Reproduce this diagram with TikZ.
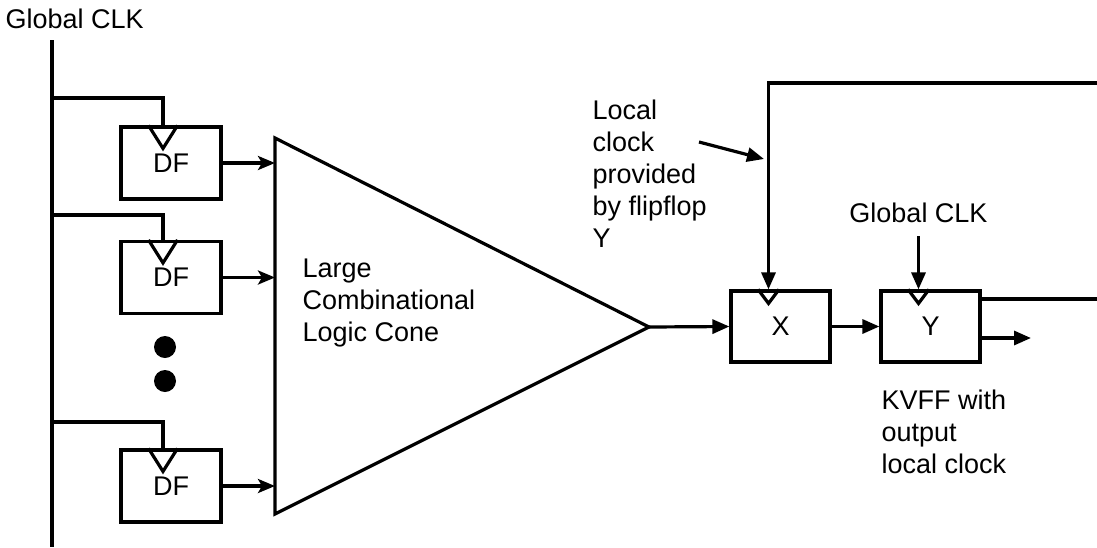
\documentclass[tikz,border=0pt]{standalone}
\usepackage{fontspec}
\setmainfont{Liberation Sans}
\usetikzlibrary{arrows.meta,calc}
\begin{document}
\begin{tikzpicture}[x=1pt,y=-1pt,
  line width=3.2pt,
  txt/.style={font=\fontsize{27}{32}\selectfont, inner sep=0pt},
  dfbox/.style={draw, minimum width=100pt, minimum height=72pt, inner sep=0pt, font=\fontsize{27}{32}\selectfont},
  ffbox/.style={draw, minimum width=99pt, minimum height=71pt, inner sep=0pt, font=\fontsize{27}{32}\selectfont},
  darr/.style={-{Stealth[length=17pt,width=14pt,inset=4pt]}},
  tarr/.style={-{Triangle[length=17pt,width=14pt]}},
  dotnode/.style={circle, fill, inner sep=0pt, minimum size=22pt}
]
\useasboundingbox (0,0) rectangle (1097,547);

% global clock bus
\node[txt, anchor=base west] (gclk) at (4,28) {Global CLK};
\coordinate (bustop) at (52,40);
\coordinate (busbot) at (52,547);
\draw (bustop) -- (busbot);

% DF flip-flops
\node[dfbox] (df1) at (171,163) {DF};
\node[dfbox] (df2) at (171,277.5) {DF};
\node[dfbox] (df3) at (171,486) {DF};

\foreach \i/\yy in {1/98, 2/215, 3/422}{
  \coordinate (br\i) at (52,\yy);
  \coordinate (ck\i) at ($(df\i.north)+(-8,0)$);
  \draw (br\i) -| (ck\i);
  \draw ($(df\i.north)+(-22.5,0)$) -- ++(14.5,23) -- ++(14.5,-23);
}

% dots
\node[dotnode] (dot1) at (165,347) {};
\node[dotnode] (dot2) at (165,381) {};

% cone
\coordinate (conetop) at (275,138);
\coordinate (conebot) at (275,514);
\coordinate (apex) at (649,327);
\draw (conetop) -- (apex) -- (conebot) -- cycle;
\node[txt, anchor=north west, align=left] (conelbl) at (301,257) {Large\\Combinational\\Logic Cone};

\foreach \i in {1,2,3}{
  \coordinate (in\i) at (275,0 |- df\i.east);
  \draw[darr] (df\i.east) -- (in\i);
}

% X and Y flip-flops
\node[ffbox] (X) at (780.5,326.5) {X};
\node[ffbox] (Y) at (930.5,326.5) {Y};
\draw ($(X.north)+(-22.5,0)$) -- ++(10.5,14) -- ++(10.5,-14);
\draw ($(Y.north)+(-22.5,0)$) -- ++(10.5,14) -- ++(10.5,-14);

\draw[tarr] (apex) -- (X.west);
\draw[tarr] (X.east) -- (Y.west);

% local clock feedback
\coordinate (xck) at ($(X.north)+(-12,0)$);
\coordinate (fbcorner) at (768.5,83);
\coordinate (fbright) at (1097,83);
\draw[tarr] (fbright) -- (fbcorner) -- (xck);

\coordinate (yo1) at (Y.east |- 0,299);
\coordinate (yo1end) at (1097,299);
\draw (yo1) -- (yo1end);
\coordinate (yo2) at (Y.east |- 0,338);
\coordinate (yo2end) at (1031,338);
\draw[tarr] (yo2) -- (yo2end);

% Y global clock
\node[txt, anchor=base] (gclk2) at (918.5,222) {Global CLK};
\coordinate (gclkin) at (918.5,236);
\coordinate (yck) at ($(Y.north)+(-12,0)$);
\draw[tarr] (gclkin) -- (yck);

% annotations
\node[txt, anchor=north west, align=left] (loclbl) at (591,98) {Local\\clock\\provided\\by flipflop\\Y};
\coordinate (lcs) at (699,142);
\coordinate (lce) at (764,159);
\draw[tarr] (lcs) -- (lce);

\node[txt, anchor=north west, align=left] (kvlbl) at (880,388) {KVFF with\\output\\local clock};
\end{tikzpicture}
\end{document}
